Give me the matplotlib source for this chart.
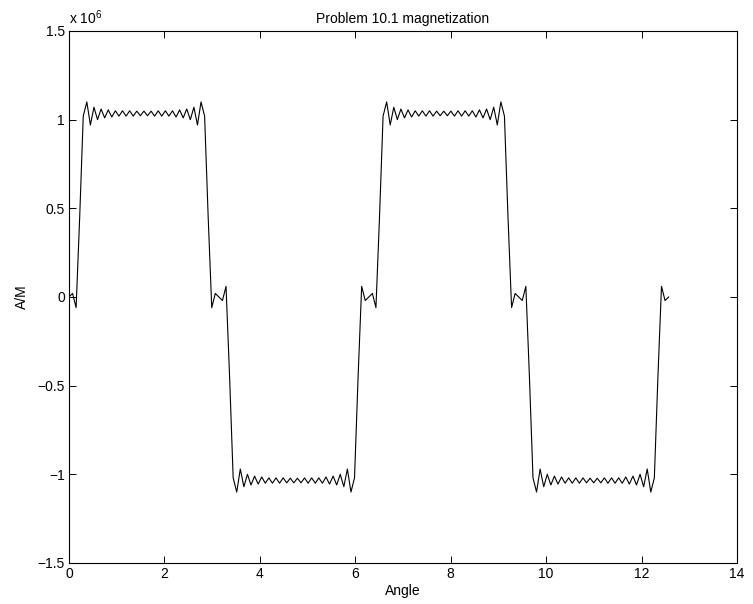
import numpy as np
import matplotlib
matplotlib.use("Agg")
import matplotlib.pyplot as plt

plt.rcParams['font.family'] = ['Liberation Sans', 'DejaVu Sans']
plt.rcParams['mathtext.fontset'] = 'custom'
plt.rcParams['mathtext.rm'] = 'Liberation Sans'
plt.rcParams['mathtext.it'] = 'Liberation Sans'

TITLE = "Problem 10.1 magnetization"
XLABEL = "Angle"
YLABEL = "A/M"
SCALE_EXP = 6

# magnetization samples (x 1e6), evenly spaced from 0 to 4*pi
MAG = [
    # 0 .. pi
    0.0, 0.02, -0.06, 0.45, 1.02, 1.10, 0.97, 1.07, 1.00, 1.06,
    1.01, 1.055, 1.015, 1.05, 1.02, 1.05, 1.02, 1.05, 1.02, 1.048,
    1.022, 1.048, 1.022, 1.048, 1.02, 1.05, 1.02, 1.05, 1.02, 1.05,
    1.015, 1.055, 1.01, 1.06, 1.00, 1.07, 0.97, 1.10, 1.02, 0.45,
    -0.06, 0.02, 0.0,
    # pi .. 2pi
    -0.02, 0.06, -0.45, -1.02, -1.10, -0.97, -1.07, -1.00, -1.06, -1.01,
    -1.055, -1.015, -1.05, -1.02, -1.05, -1.02, -1.05, -1.02, -1.048, -1.022,
    -1.048, -1.022, -1.048, -1.02, -1.05, -1.02, -1.05, -1.02, -1.05, -1.015,
    -1.055, -1.01, -1.06, -1.00, -1.07, -0.97, -1.10, -1.02, -0.45, 0.06,
    -0.02, 0.0,
    # 2pi .. 3pi
    0.02, -0.06, 0.45, 1.02, 1.10, 0.97, 1.07, 1.00, 1.06, 1.01,
    1.055, 1.015, 1.05, 1.02, 1.05, 1.02, 1.05, 1.02, 1.048, 1.022,
    1.048, 1.022, 1.048, 1.02, 1.05, 1.02, 1.05, 1.02, 1.05, 1.015,
    1.055, 1.01, 1.06, 1.00, 1.07, 0.97, 1.10, 1.02, 0.45, -0.06,
    0.02, 0.0,
    # 3pi .. 4pi
    -0.02, 0.06, -0.45, -1.02, -1.10, -0.97, -1.07, -1.00, -1.06, -1.01,
    -1.055, -1.015, -1.05, -1.02, -1.05, -1.02, -1.05, -1.02, -1.048, -1.022,
    -1.048, -1.022, -1.048, -1.02, -1.05, -1.02, -1.05, -1.02, -1.05, -1.015,
    -1.055, -1.01, -1.06, -1.00, -1.07, -0.97, -1.10, -1.02, -0.45, 0.06,
    -0.02, 0.0,
]

X_TICKS = [0, 2, 4, 6, 8, 10, 12, 14]
Y_TICKS = [-1.5, -1, -0.5, 0, 0.5, 1, 1.5]
Y_TICK_LABELS = ["\u22121.5", "\u22121", "\u22120.5", "0", "0.5", "1", "1.5"]

angle = np.linspace(0, 4 * np.pi, len(MAG))
mag = np.array(MAG)

fig = plt.figure(figsize=(7.53, 6.04), dpi=100)
ax = fig.add_axes([0.0916, 0.0679, 0.8872, 0.8808])

ax.plot(angle, mag, color='black', linewidth=0.8)

ax.set_xlim(0, 14)
ax.set_ylim(-1.5, 1.5)
ax.set_xticks(X_TICKS)
ax.set_xticklabels([str(t) for t in X_TICKS])
ax.set_yticks(Y_TICKS)
ax.set_yticklabels(Y_TICK_LABELS)

# matlab style: ticks inside, on all four sides
ax.tick_params(direction='in', length=5, width=0.7, top=True, right=True,
               labelsize=10, pad=3)
for side in ax.spines.values():
    side.set_linewidth(0.8)

ax.set_title(TITLE, fontsize=10, pad=6)
ax.set_xlabel(XLABEL, fontsize=10, labelpad=2)
ax.set_ylabel(YLABEL, fontsize=10, labelpad=6)

# exponent label at the top left corner
ax.text(0.0, 1.008, r"x 10$^{%d}$" % SCALE_EXP, transform=ax.transAxes,
        ha='left', va='bottom', fontsize=10)

fig.savefig("out.png", dpi=100)
